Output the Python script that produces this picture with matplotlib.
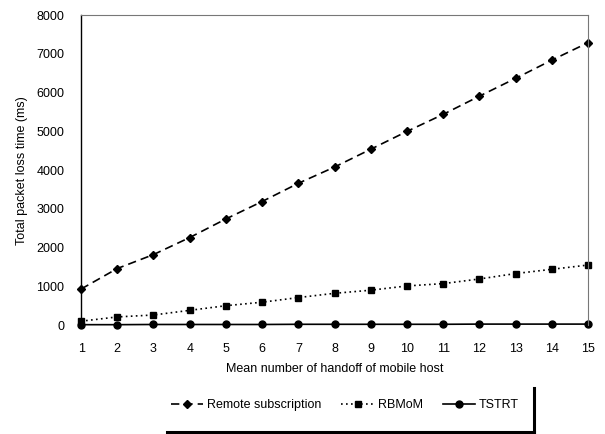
#Packet loss time vs mean number of handoffs
import numpy as np
import matplotlib.pyplot as plt
from matplotlib.lines import Line2D

plt.rcParams['font.family'] = ['Liberation Sans', 'DejaVu Sans']

handoffs = list(range(1, 16))
remote = [930, 1460, 1820, 2260, 2740, 3190, 3660, 4080, 4540, 5000, 5440, 5910, 6370, 6840, 7290]
rbmom = [100, 210, 260, 380, 500, 590, 710, 820, 900, 1010, 1070, 1190, 1330, 1440, 1550]
tstrt = [10, 10, 15, 15, 15, 15, 20, 20, 20, 20, 20, 25, 25, 25, 25]
yticks = list(range(0, 8001, 1000))

fig = plt.figure(figsize=(6.05, 4.34), dpi=100)
ax = fig.add_axes([0.134, 0.251, 0.838, 0.714])

ax.plot(handoffs, remote, color='black', linestyle=(0, (5, 3)), lw=1.2,
        marker='D', markersize=4, label='Remote subscription', clip_on=False)
ax.plot(handoffs, rbmom, color='black', linestyle=(0, (1, 2)), lw=1.2,
        marker='s', markersize=5, label='RBMoM', clip_on=False)
ax.plot(handoffs, tstrt, color='black', linestyle='-', lw=1.2,
        marker='o', markersize=5, label='TSTRT', clip_on=False)

ax.set_xlim(1, 15)
ax.set_ylim(0, 8000)
ax.set_xticks(handoffs)
ax.set_yticks(yticks)
ax.tick_params(length=0, labelsize=9)
ax.tick_params(axis='x', pad=13)
ax.tick_params(axis='y', pad=12)

ax.spines['left'].set_color('black')
ax.spines['left'].set_linewidth(1.0)
ax.spines['bottom'].set_visible(False)
ax.spines['top'].set_color('#777777')
ax.spines['top'].set_linestyle((0, (3, 1)))
ax.spines['top'].set_linewidth(0.8)
ax.spines['right'].set_color('#777777')
ax.spines['right'].set_linestyle((0, (3, 1)))
ax.spines['right'].set_linewidth(0.8)

ax.set_xlabel('Mean number of handoff of mobile host', fontsize=9, labelpad=6)
ax.set_ylabel('Total packet loss time (ms)', fontsize=9, labelpad=6)

leg = fig.legend(loc='center', bbox_to_anchor=(0.57, 0.067), ncol=3,
                 frameon=False, fontsize=9, handlelength=2.6, columnspacing=1.6,
                 handletextpad=0.3)

# shadowed legend box edges (right and bottom only)
fig.add_artist(Line2D([534/605, 534/605], [1-388/434, 1-432/434],
                      transform=fig.transFigure, color='black', lw=2.2))
fig.add_artist(Line2D([167/605, 534/605], [1-432/434, 1-432/434],
                      transform=fig.transFigure, color='black', lw=2.2))

fig.savefig('out.png', dpi=100)
